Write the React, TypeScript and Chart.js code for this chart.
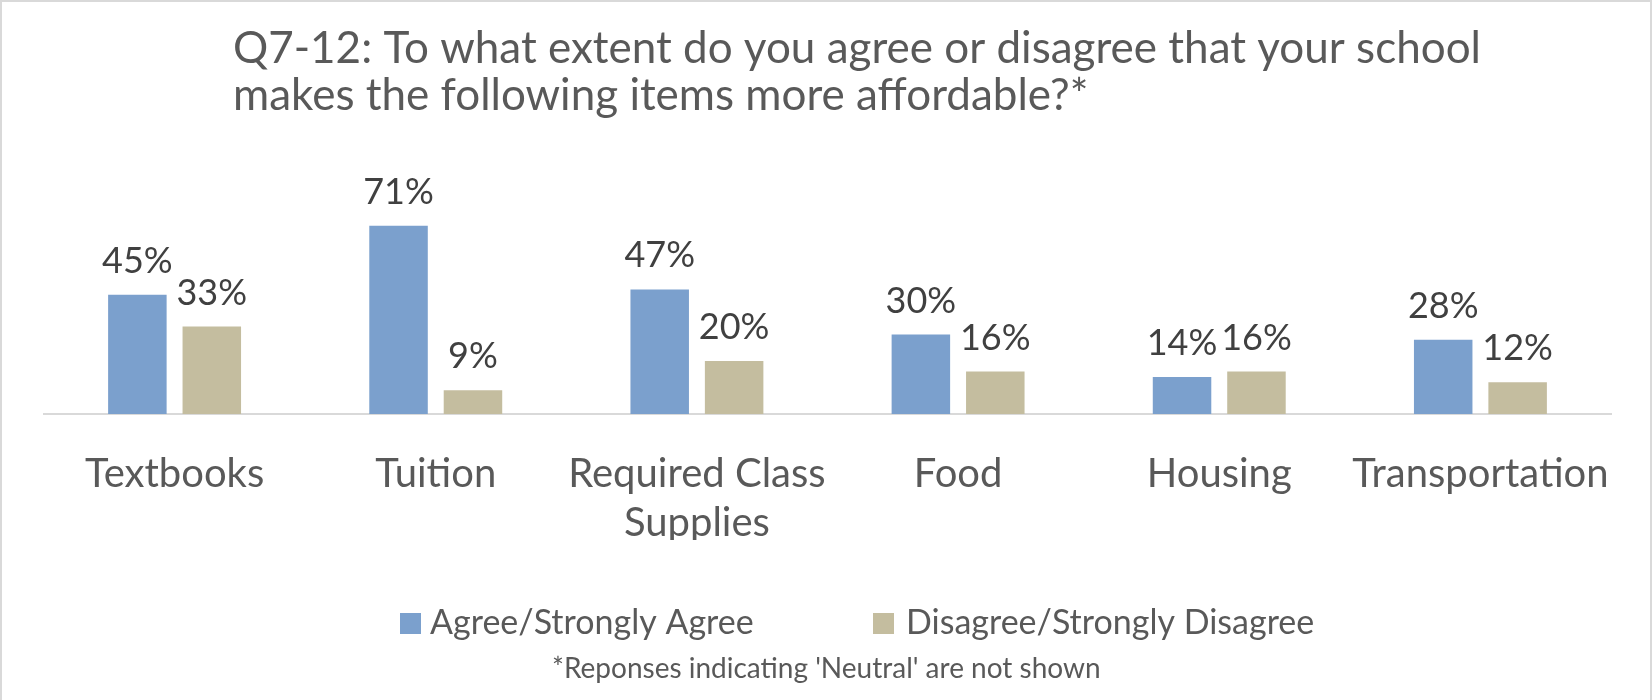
import React, { useEffect, useRef } from 'react';
import { Chart, registerables } from 'chart.js';

Chart.register(...registerables);

// ---- data ----
const categories: (string | string[])[] = [
  'Textbooks',
  'Tuition',
  ['Required Class', 'Supplies'],
  'Food',
  'Housing',
  'Transportation',
];
const agreeValues = [45, 71, 47, 30, 14, 28];
const disagreeValues = [33, 9, 20, 16, 16, 12];
const seriesNames = ['Agree/Strongly Agree', 'Disagree/Strongly Disagree'];
const titleLines = [
  'Q7-12: To what extent do you agree or disagree that your school',
  'makes the following items more affordable?*',
];
const footnote = "*Reponses indicating 'Neutral' are not shown";

// ---- styles ----
const FONT = 'Lato, "Open Sans", sans-serif';
const BLUE = '#7BA0CD';
const TAN = '#C4BD9F';
const TEXT = '#595959';
const LABEL = '#404040';

const decorPlugin = {
  id: 'decor',
  afterDatasetsDraw(chart: any) {
    const ctx = chart.ctx;
    ctx.save();
    ctx.fillStyle = LABEL;
    ctx.font = `36px ${FONT}`;
    ctx.textAlign = 'center';
    ctx.textBaseline = 'alphabetic';
    chart.data.datasets.forEach((ds: any, di: number) => {
      const meta = chart.getDatasetMeta(di);
      meta.data.forEach((bar: any, i: number) => {
        ctx.fillText(`${ds.data[i]}%`, bar.x, bar.y - 22);
      });
    });
    ctx.restore();
  },
  afterDraw(chart: any) {
    const ctx = chart.ctx;
    ctx.save();
    // title
    ctx.fillStyle = TEXT;
    ctx.font = `44px ${FONT}`;
    ctx.textAlign = 'left';
    ctx.textBaseline = 'alphabetic';
    ctx.fillText(titleLines[0], 233, 63);
    ctx.fillText(titleLines[1], 233, 110);

    // legend
    const colors = [BLUE, TAN];
    const boxX = [400, 873];
    const textX = [430, 906];
    ctx.font = `34px ${FONT}`;
    seriesNames.forEach((name, i) => {
      ctx.fillStyle = colors[i];
      ctx.fillRect(boxX[i], 613, 21, 21);
      ctx.fillStyle = TEXT;
      ctx.fillText(name, textX[i], 634);
    });

    // footnote
    ctx.font = `28px ${FONT}`;
    ctx.fillStyle = TEXT;
    ctx.fillText(footnote, 552, 678);

    // chart border
    ctx.strokeStyle = '#d9d9d9';
    ctx.lineWidth = 2;
    ctx.beginPath();
    ctx.moveTo(1, 702);
    ctx.lineTo(1, 1);
    ctx.lineTo(1651, 1);
    ctx.lineTo(1651, 702);
    ctx.stroke();
    ctx.restore();
  },
};

export default function App() {
  const canvasRef = useRef<HTMLCanvasElement | null>(null);

  useEffect(() => {
    document.body.style.margin = '0';
    const canvas = canvasRef.current;
    if (!canvas) return;
    const chart = new Chart(canvas, {
      type: 'bar',
      data: {
        labels: categories as any,
        datasets: [
          {
            label: seriesNames[0],
            data: agreeValues,
            backgroundColor: BLUE,
            categoryPercentage: 0.57,
            barPercentage: 0.786,
          },
          {
            label: seriesNames[1],
            data: disagreeValues,
            backgroundColor: TAN,
            categoryPercentage: 0.57,
            barPercentage: 0.786,
          },
        ],
      },
      options: {
        responsive: false,
        animation: false,
        devicePixelRatio: 1,
        layout: { padding: { left: 44, right: 41, top: 202, bottom: 160 } },
        plugins: {
          legend: { display: false },
          title: { display: false },
          tooltip: { enabled: false },
        },
        scales: {
          x: {
            grid: { display: false },
            border: { display: true, color: '#d9d9d9', width: 2 },
            ticks: {
              color: TEXT,
              font: { family: FONT, size: 40, lineHeight: 1.22 },
              padding: 28,
              maxRotation: 0,
              minRotation: 0,
              autoSkip: false,
            },
            afterFit: (scale: any) => {
              scale.height = 126;
            },
          },
          y: { display: false, min: 0, max: 80 },
        },
      },
      plugins: [decorPlugin],
    });
    return () => chart.destroy();
  }, []);

  return (
    <div style={{ width: 1652, height: 700 }}>
      <canvas ref={canvasRef} width={1652} height={700} style={{ display: 'block' }} />
    </div>
  );
}
